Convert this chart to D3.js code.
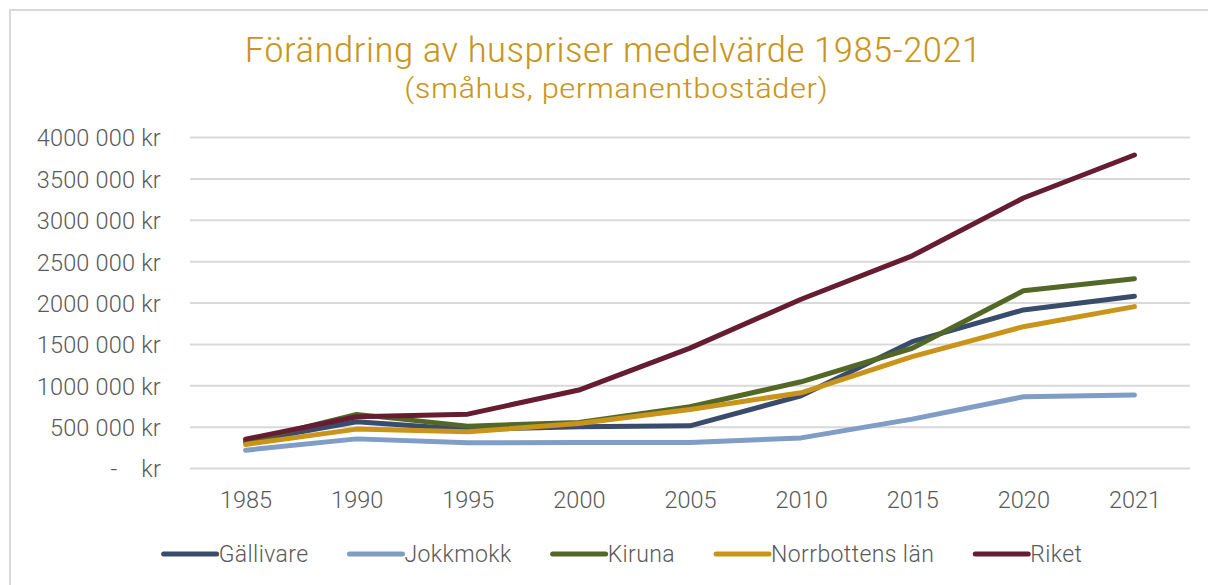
<!DOCTYPE html>
<html>
<head>
<meta charset="utf-8">
<script src="https://cdn.jsdelivr.net/npm/d3@7"></script>
<style>
  body { margin: 0; background: #fff; }
  text { font-family: Roboto, "Open Sans", sans-serif; font-weight: 300; fill: #595959; }
</style>
</head>
<body>
<svg id="chart" width="1208" height="585"></svg>
<script>
const years = ['1985', '1990', '1995', '2000', '2005', '2010', '2015', '2020', '2021'];

const gallivare  = [322000, 564000, 472000, 504000, 516000, 879000, 1533000, 1916000, 2082000];
const jokkmokk   = [221000, 358000, 310000, 315000, 315000, 370000, 597000, 867000, 887000];
const kiruna     = [322000, 654000, 512000, 557000, 746000, 1048000, 1453000, 2147000, 2292000];
const norrbotten = [290000, 476000, 443000, 545000, 714000, 915000, 1351000, 1714000, 1956000];
const riket      = [355000, 625000, 657000, 948000, 1455000, 2045000, 2570000, 3269000, 3789000];

const seriesNames = ['Gällivare', 'Jokkmokk', 'Kiruna', 'Norrbottens län', 'Riket'];
const seriesColors = ['#3a4c6c', '#7f9dc5', '#536827', '#c9941a', '#661d31'];

const yTicks = [0, 500000, 1000000, 1500000, 2000000, 2500000, 3000000, 3500000, 4000000];
const yTickLabels = ['-    kr', '500 000 kr', '1000 000 kr', '1500 000 kr', '2000 000 kr',
  '2500 000 kr', '3000 000 kr', '3500 000 kr', '4000 000 kr'];

const series = [gallivare, jokkmokk, kiruna, norrbotten, riket].map((values, i) => ({
  name: seriesNames[i],
  color: seriesColors[i],
  values: values
}));

const svg = d3.select('#chart');

// frame
svg.append('path')
  .attr('d', 'M10,585 V10 H1208')
  .attr('fill', 'none')
  .attr('stroke', '#d9d9d9')
  .attr('stroke-width', 2);

// title
svg.append('text')
  .attr('x', 613).attr('y', 62)
  .attr('text-anchor', 'middle')
  .attr('textLength', 737).attr('lengthAdjust', 'spacingAndGlyphs')
  .style('font-family', '"Liberation Sans Narrow", "Roboto Condensed", Roboto, sans-serif')
  .style('font-size', '35px')
  .style('fill', '#c9961c')
  .text('Förändring av huspriser medelvärde 1985-2021');

svg.append('text')
  .attr('x', 616).attr('y', 98)
  .attr('text-anchor', 'middle')
  .attr('textLength', 424).attr('lengthAdjust', 'spacingAndGlyphs')
  .style('font-family', '"Liberation Sans Narrow", "Roboto Condensed", Roboto, sans-serif')
  .style('font-size', '28px')
  .style('fill', '#c9961c')
  .text('(småhus, permanentbostäder)');

const x = d3.scalePoint()
  .domain(years)
  .range([190, 1190])
  .padding(0.5);

const y = d3.scaleLinear()
  .domain([0, 4000000])
  .range([468.5, 137.5]);

// gridlines
svg.append('g')
  .selectAll('line')
  .data(yTicks)
  .join('line')
  .attr('x1', 190).attr('x2', 1190)
  .attr('y1', d => y(d)).attr('y2', d => y(d))
  .attr('stroke', '#d9d9d9')
  .attr('stroke-width', 2);

// y axis labels
const yAxis = d3.axisLeft(y)
  .tickValues(yTicks)
  .tickSize(0)
  .tickPadding(0)
  .tickFormat((d, i) => yTickLabels[i]);

const gy = svg.append('g')
  .attr('transform', 'translate(161,0)')
  .call(yAxis);
gy.select('.domain').remove();
gy.selectAll('text')
  .attr('dy', '0.36em')
  .style('font-size', '23.5px')
  .style('letter-spacing', '0.2px')
  .style('white-space', 'pre')
  .style('font-family', 'Roboto, sans-serif')
  .attr('fill', null);

// x axis labels
const xAxis = d3.axisBottom(x).tickSize(0).tickPadding(0);
const gx = svg.append('g')
  .attr('transform', 'translate(0,491)')
  .call(xAxis);
gx.select('.domain').remove();
gx.selectAll('text')
  .attr('dy', '0.71em')
  .style('font-size', '23.5px')
  .style('font-family', 'Roboto, sans-serif')
  .attr('fill', null);

// lines
const line = d3.line()
  .x((d, i) => x(years[i]))
  .y(d => y(d));

svg.append('g')
  .selectAll('path')
  .data(series)
  .join('path')
  .attr('d', d => line(d.values))
  .attr('fill', 'none')
  .attr('stroke', d => d.color)
  .attr('stroke-width', 5)
  .attr('stroke-linejoin', 'round')
  .attr('stroke-linecap', 'round');

// legend
const legend = svg.append('g');
const items = legend.selectAll('g')
  .data(series)
  .join('g');

items.append('line')
  .attr('x1', 2).attr('x2', 55)
  .attr('y1', 0).attr('y2', 0)
  .attr('stroke', d => d.color)
  .attr('stroke-width', 5)
  .attr('stroke-linecap', 'round');

items.append('text')
  .attr('x', 57)
  .attr('dy', '0.36em')
  .style('font-size', '23px')
  .style('letter-spacing', '0.4px')
  .text(d => d.name);

let offset = 0;
const widths = [];
items.each(function() {
  const w = 57 + d3.select(this).select('text').node().getComputedTextLength();
  widths.push(w);
});
const gap = 39;
const total = d3.sum(widths) + gap * (widths.length - 1);
let start = 622 - total / 2;
items.attr('transform', (d, i) => {
  const t = `translate(${start + offset},554)`;
  offset += widths[i] + gap;
  return t;
});
</script>
</body>
</html>
